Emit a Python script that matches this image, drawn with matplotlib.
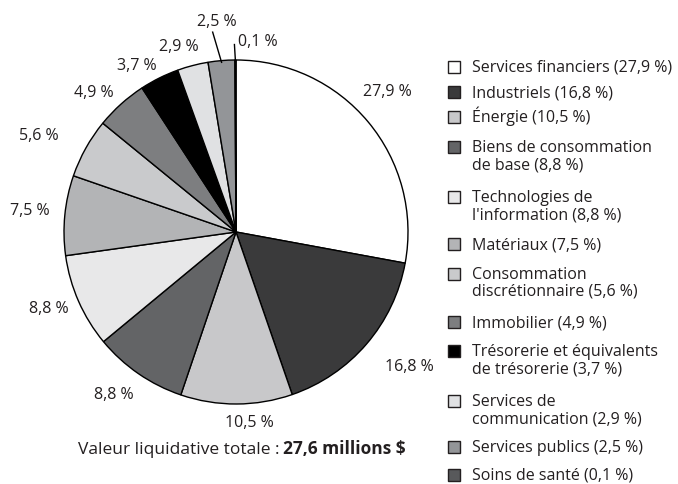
import matplotlib
matplotlib.use("Agg")
import matplotlib.pyplot as plt
from matplotlib.patches import Rectangle
import numpy as np

plt.rcParams['font.family'] = ['Open Sans', 'DejaVu Sans']

categories = ["Services financiers (27,9 %)", "Industriels (16,8 %)", "Énergie (10,5 %)",
              "Biens de consommation\nde base (8,8 %)", "Technologies de\nl'information (8,8 %)",
              "Matériaux (7,5 %)", "Consommation\ndiscrétionnaire (5,6 %)", "Immobilier (4,9 %)",
              "Trésorerie et équivalents\nde trésorerie (3,7 %)", "Services de\ncommunication (2,9 %)",
              "Services publics (2,5 %)", "Soins de santé (0,1 %)"]
values = [27.9, 16.8, 10.5, 8.8, 8.8, 7.5, 5.6, 4.9, 3.7, 2.9, 2.5, 0.1]
pct_labels = ["27,9 %", "16,8 %", "10,5 %", "8,8 %", "8,8 %", "7,5 %", "5,6 %", "4,9 %",
              "3,7 %", "2,9 %", "2,5 %", "0,1 %"]
colors = ["#ffffff", "#3a3a3b", "#c8c8ca", "#636466", "#e8e8e9", "#b3b4b6",
          "#c9cacc", "#7d7e80", "#000000", "#e0e1e3", "#939598", "#58595b"]

# label anchor positions in pie-radius units
label_pos = [(0.878, 0.814), (1.006, -0.785), (0.076, -1.11), (-0.709, -0.948),
             (-1.087, -0.448), (-1.198, 0.122), (-1.145, 0.558), (-0.826, 0.808),
             (-0.576, 0.965), (-0.331, 1.076), (-0.110, 1.221), (0.01, 1.105)]
label_ha = ["center"] * 11 + ["left"]

TXT = "#231f20"
FS = 11.5
W, H = 678, 484
fig = plt.figure(figsize=(W / 100, H / 100), dpi=100)
cx, cy, R = 236, 232, 172
L = 1.3
side = 2 * L * R
ax = fig.add_axes([(cx - side / 2) / W, (H - cy - side / 2) / H, side / W, side / H])
wedges, _ = ax.pie(values, colors=colors, startangle=90, counterclock=False,
                   wedgeprops=dict(edgecolor="black", linewidth=1.0))
ax.set_xlim(-L, L)
ax.set_ylim(-L, L)
ax.set_aspect("equal")
ax.axis("off")

for (x, y), t, ha in zip(label_pos, pct_labels, label_ha):
    ax.text(x, y, t, ha=ha, va="center", fontsize=FS, color=TXT)

# leader lines for small slices
for i, (r0, r1, ang_off) in zip([10, 11], [(0.99, 1.17, 1.8), (0.99, 1.09, 0.3)]):
    w = wedges[i]
    a = np.deg2rad((w.theta1 + w.theta2) / 2)
    a2 = a + np.deg2rad(ang_off)
    ax.plot([r0 * np.cos(a), r1 * np.cos(a2)], [r0 * np.sin(a), r1 * np.sin(a2)],
            color="black", lw=1.0)

# Legend
rows_y = [67, 92, 117, 147, 197, 244, 274, 322, 351, 401, 447, 475]
line_gap = 17
for y, lab, c in zip(rows_y, categories, colors):
    fig.patches.append(Rectangle((448 / W, 1 - (y + 6) / H), 12 / W, 12 / H,
                                 transform=fig.transFigure, facecolor=c,
                                 edgecolor=TXT, linewidth=1.0))
    for k, line in enumerate(lab.split("\n")):
        fig.text(472 / W, 1 - (y + 5 + k * line_gap) / H, line, ha="left",
                 va="baseline", fontsize=FS, color=TXT)

# Total
fig.text(279 / W, 1 - 454 / H, "Valeur liquidative totale :", ha="right", va="baseline",
         fontsize=12.5, color=TXT)
fig.text(283 / W, 1 - 454 / H, "27,6 millions $", ha="left", va="baseline",
         fontsize=12.5, fontweight="bold", color=TXT)

fig.savefig("out.png", dpi=100)
